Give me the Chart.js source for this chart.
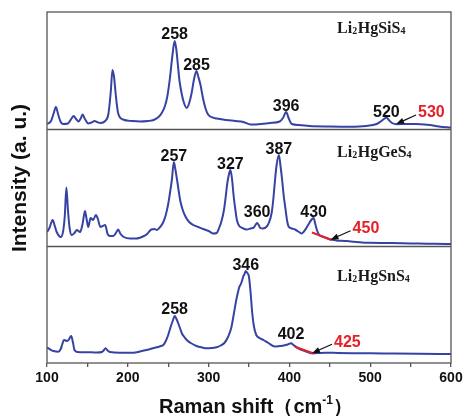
<!DOCTYPE html>
<html>
<head>
<meta charset="utf-8">
<script src="https://cdn.jsdelivr.net/npm/chart.js@4.4.1/dist/chart.umd.min.js"></script>
<style>
  html, body { margin: 0; padding: 0; background: #fff; }
  canvas { display: block; }
</style>
</head>
<body>
<canvas id="raman" width="466" height="416"></canvas>
<script>
// Raman spectra of three Li2HgMS4 compounds (intensity in arbitrary units, 0-117 per panel)
const sampleNames = ['Li2HgSiS4', 'Li2HgGeS4', 'Li2HgSnS4'];

const siShift = [100,105,108,111,114,117,120,126,130,133,136,139,142,144,147,151,155,159,162,166,172,176,179,181,183,185,188,194,205,215,225,232,238,242,246,249,252,255,258,260,262,264,267,270,273,276,279,282,285,287,290,293,296,299,302,310,322,333,343,352,365,376,388,392,396,399,403,412,425,450,475,495,508,513,517,520,523,527,533,545,557,567,574,585,600];
const siIntensity = [5,8,15,22,14,7,5,5.5,10,13,10,7.5,11,14.5,10,5.5,6.5,8,7,6,8,15,38,59,52,35,16,9.5,8,7.5,8,9,12,16,23,33,50,72,88,80,64,48,34,25,21,26,36,50,58,53,44,31,21,15,12.5,10.5,9,8,7,4.5,5,6,7.5,11,17,11,5,4,3,2.5,2.3,3,5,7.5,10,11.5,9,6,4.8,5,5,4.6,4,2.5,1.3];

const geShift = [100,103,107,110,112,115,117,120,122,124,126,128,130.5,134,137,141,144,147,149,151,154,157,160.5,163,166,169,172,175,178,182,186,188,191,195,203,210,215,220,224,229,233,236,240,244,247,250,252,254.5,257,259,261,263,265,268,271,276,281,287,293,300,306,310,313,316,319,321,323,325,327,329,331,333,335,338,342,347,352,356,358,360,362,364,367,372,375,378,380,382,384,387,389,391,393,395,397,399,403,407,411,415,418,421,424,427,430,432,434,437,441,446,450,458,465,471,480,490,500,520,540,560,580,600];
const geIntensity = [14,18,26,19,14,10,9,15,30,58.5,35,18,11,13,16,14,22,35,27,19,28,26,31,27,19,20,21,12,10,10,14,16.5,12,9,7.5,7.5,8.3,10,12,16.5,17,16,19,24,31,42,52,66,84,76,66,55,45,36,30,24,21,19,17,15,12.5,13,18,25,36,48,62,71,76,67,50,37,26,20,18,16.5,17.5,18.5,21,23,21,18,17.5,19.5,24,33,46,64,80,91,80,66,50,38,26,19.5,17.5,16.5,14.5,12.5,14.5,18,22,26,28,22,16,11,9.5,8,6.7,5.6,5.2,5,4.3,3.6,3.3,3,2.7,2.5,2.2,2];

const snShift = [100,104,108,114,117,119,121,123,125,127,130,132,134,138,145,155,162,168,170,172.5,175,178,190,200,207,215,223,230,236,241,244,247,250,253,256,258,260,262.5,265,267,270,273,278,285,292,298,304,310,315,320,324,328,331,334,337,338,340,342,343,344,346,348,350,352,354,356,359,363,368,374,382,388,393,398,402,405,409,414,419,424,428,435,446,460,480,500,530,560,600];
const snIntensity = [15.5,13.5,12,11.3,14,19,23,22.5,22,23.5,27,21,13,11,10.7,10.7,10.5,11,12.5,14.7,12.5,11,10.3,10.3,10.3,11.5,13,14.5,15.7,17,18,22,28,36,43,47,44.5,39.5,34,29.5,26,23,20,17,15.5,14.7,15,15.7,17.5,20.5,26,35,48,62,73,76,79,84,87,88,92,90,86,70,50,37,28,25,23,20,16.5,17,17.5,18.5,19.7,18,15.7,13.5,12,10.5,9.7,10,10.3,10,9.8,9.7,9.4,9.2,9];

// Peak positions printed above each spectrum (cm^-1)
const siPeaks = [258, 285, 396, 520];
const gePeaks = [257, 327, 360, 387, 430];
const snPeaks = [258, 346, 402];

// Absorption-edge tangents: [shift, intensity] pairs, and the edge value pointed to
const siEdge = { value: 530, tangent: null, tip: [532, 5] };
const geEdge = { value: 450, tangent: [[428, 13.5], [452, 6]], tip: [451, 6.3] };
const snEdge = { value: 425, tangent: [[407, 16.3], [430, 9.5]], tip: [428, 9.8] };

const xTicks = [100, 200, 300, 400, 500, 600];

// ---- layout / style ----
const PANEL = 117;               // height of one panel in intensity units
const LINE_BLUE = '#3743a3';
const EDGE_RED = '#e5202a';
const FRAME = '#555';
const peakGap = { 360: 6, 258: 2, 402: 4 };
const titleLevel = [96, 89.5, 82.5];
const titleShift = 459;
const labelFont = 'bold 16px "Liberation Sans", Arial, sans-serif';

const spectra = [
  { shift: siShift, val: siIntensity, peaks: siPeaks, edge: siEdge },
  { shift: geShift, val: geIntensity, peaks: gePeaks, edge: geEdge },
  { shift: snShift, val: snIntensity, peaks: snPeaks, edge: snEdge }
];
// top panel sits highest on the shared y scale
const panelBase = i => (2 - i) * PANEL;

const datasets = spectra.map((s, i) => ({
  label: sampleNames[i],
  data: s.shift.map((v, k) => ({ x: v, y: s.val[k] + panelBase(i) })),
  borderColor: LINE_BLUE,
  borderWidth: 2,
  pointRadius: 0,
  cubicInterpolationMode: 'monotone',
  fill: false
}));

function drawFormula(ctx, text, x, y) {
  // digits are drawn as subscripts
  let cx = x;
  const parts = text.match(/\d+|\D+/g);
  parts.forEach(p => {
    const sub = /^\d+$/.test(p);
    ctx.font = sub ? 'bold 10px "Liberation Serif", "Times New Roman", serif'
                   : 'bold 16px "Liberation Serif", "Times New Roman", serif';
    ctx.fillText(p, cx, sub ? y + 1 : y);
    cx += ctx.measureText(p).width + (sub ? 0.5 : 0);
  });
}

function drawArrow(ctx, x0, y0, x1, y1) {
  const ang = Math.atan2(y1 - y0, x1 - x0);
  const hl = 8, hw = 3;
  ctx.strokeStyle = '#111';
  ctx.fillStyle = '#111';
  ctx.lineWidth = 1.2;
  ctx.beginPath();
  ctx.moveTo(x0, y0);
  ctx.lineTo(x1 - Math.cos(ang) * hl * 0.8, y1 - Math.sin(ang) * hl * 0.8);
  ctx.stroke();
  ctx.beginPath();
  ctx.moveTo(x1, y1);
  ctx.lineTo(x1 - Math.cos(ang) * hl - Math.sin(ang) * hw, y1 - Math.sin(ang) * hl + Math.cos(ang) * hw);
  ctx.lineTo(x1 - Math.cos(ang) * hl + Math.sin(ang) * hw, y1 - Math.sin(ang) * hl - Math.cos(ang) * hw);
  ctx.closePath();
  ctx.fill();
}

const ramanDecor = {
  id: 'ramanDecor',
  afterDatasetsDraw(chart) {
    const { ctx, chartArea: a, scales: { x, y } } = chart;
    ctx.save();

    // panel frames
    ctx.strokeStyle = FRAME;
    ctx.lineWidth = 1.3;
    ctx.strokeRect(a.left, a.top, a.right - a.left, a.bottom - a.top);
    [PANEL, 2 * PANEL].forEach(v => {
      const py = Math.round(y.getPixelForValue(v)) + 0.5;
      ctx.beginPath();
      ctx.moveTo(a.left, py);
      ctx.lineTo(a.right, py);
      ctx.stroke();
    });

    spectra.forEach((s, i) => {
      const base = panelBase(i);

      // compound name
      ctx.fillStyle = '#1a1a1a';
      ctx.textAlign = 'left';
      ctx.textBaseline = 'alphabetic';
      drawFormula(ctx, sampleNames[i], x.getPixelForValue(titleShift), y.getPixelForValue(titleLevel[i] + base));

      // peak labels
      ctx.font = labelFont;
      ctx.textAlign = 'center';
      ctx.fillStyle = '#111';
      s.peaks.forEach(p => {
        const k = s.shift.indexOf(p);
        const px = x.getPixelForValue(p);
        const py = y.getPixelForValue(s.val[k] + base);
        ctx.fillText(String(p), px, py - (peakGap[p] || 1));
      });

      // tangent line, arrow and edge value
      const e = s.edge;
      if (e.tangent) {
        ctx.strokeStyle = EDGE_RED;
        ctx.lineWidth = 2;
        ctx.beginPath();
        ctx.moveTo(x.getPixelForValue(e.tangent[0][0]), y.getPixelForValue(e.tangent[0][1] + base));
        ctx.lineTo(x.getPixelForValue(e.tangent[1][0]), y.getPixelForValue(e.tangent[1][1] + base));
        ctx.stroke();
      }
      const tx = x.getPixelForValue(e.tip[0]);
      const ty = y.getPixelForValue(e.tip[1] + base);
      const lx = tx + 21, ly = ty - 10;
      drawArrow(ctx, lx - 1, ly + 1, tx, ty);
      ctx.font = labelFont;
      ctx.fillStyle = EDGE_RED;
      ctx.textAlign = 'left';
      ctx.textBaseline = 'middle';
      ctx.fillText(String(e.value), lx + 1, ly - 1);
      ctx.textBaseline = 'alphabetic';
    });

    // axis titles
    ctx.fillStyle = '#111';
    ctx.save();
    ctx.translate(20, 178);
    ctx.rotate(-Math.PI / 2);
    ctx.font = 'bold 21px "Liberation Sans", Arial, sans-serif';
    ctx.textAlign = 'center';
    ctx.textBaseline = 'middle';
    ctx.fillText('Intensity (a. u.)', 0, 0);
    ctx.restore();

    const big = 'bold 20px "Liberation Sans", Arial, sans-serif';
    const sup = 'bold 12px "Liberation Sans", Arial, sans-serif';
    const pieces = [['Raman shift', big, 0], ['（', big, 0], ['cm', big, 0], ['-1', sup, -9], ['）', big, 0]];
    let total = 0;
    pieces.forEach(p => { ctx.font = p[1]; total += ctx.measureText(p[0]).width; });
    let cx = 256 - total / 2;
    ctx.textAlign = 'left';
    ctx.textBaseline = 'alphabetic';
    pieces.forEach(p => {
      ctx.font = p[1];
      ctx.fillText(p[0], cx, 413 + p[2]);
      cx += ctx.measureText(p[0]).width;
    });

    ctx.restore();
  }
};

new Chart(document.getElementById('raman'), {
  type: 'line',
  data: { datasets },
  options: {
    responsive: false,
    animation: false,
    layout: { padding: { left: 47, right: 15, top: 12, bottom: 0 } },
    plugins: { legend: { display: false }, tooltip: { enabled: false } },
    scales: {
      x: {
        type: 'linear',
        min: 100,
        max: 600,
        afterFit: axis => { axis.height = 53; },
        afterBuildTicks: axis => {
          const t = [];
          for (let v = 100; v <= 600; v += 50) t.push({ value: v });
          axis.ticks = t;
        },
        border: { display: false },
        grid: { drawOnChartArea: false, drawTicks: true, tickLength: 4, color: FRAME, lineWidth: 1.3 },
        ticks: {
          autoSkip: false,
          maxRotation: 0,
          padding: 3,
          color: '#111',
          font: { family: '"Liberation Sans", Arial, sans-serif', size: 14, weight: 'bold' },
          callback: v => (xTicks.includes(v) ? String(v) : '')
        }
      },
      y: { display: false, min: 0, max: 3 * PANEL }
    }
  },
  plugins: [ramanDecor]
});
</script>
</body>
</html>
